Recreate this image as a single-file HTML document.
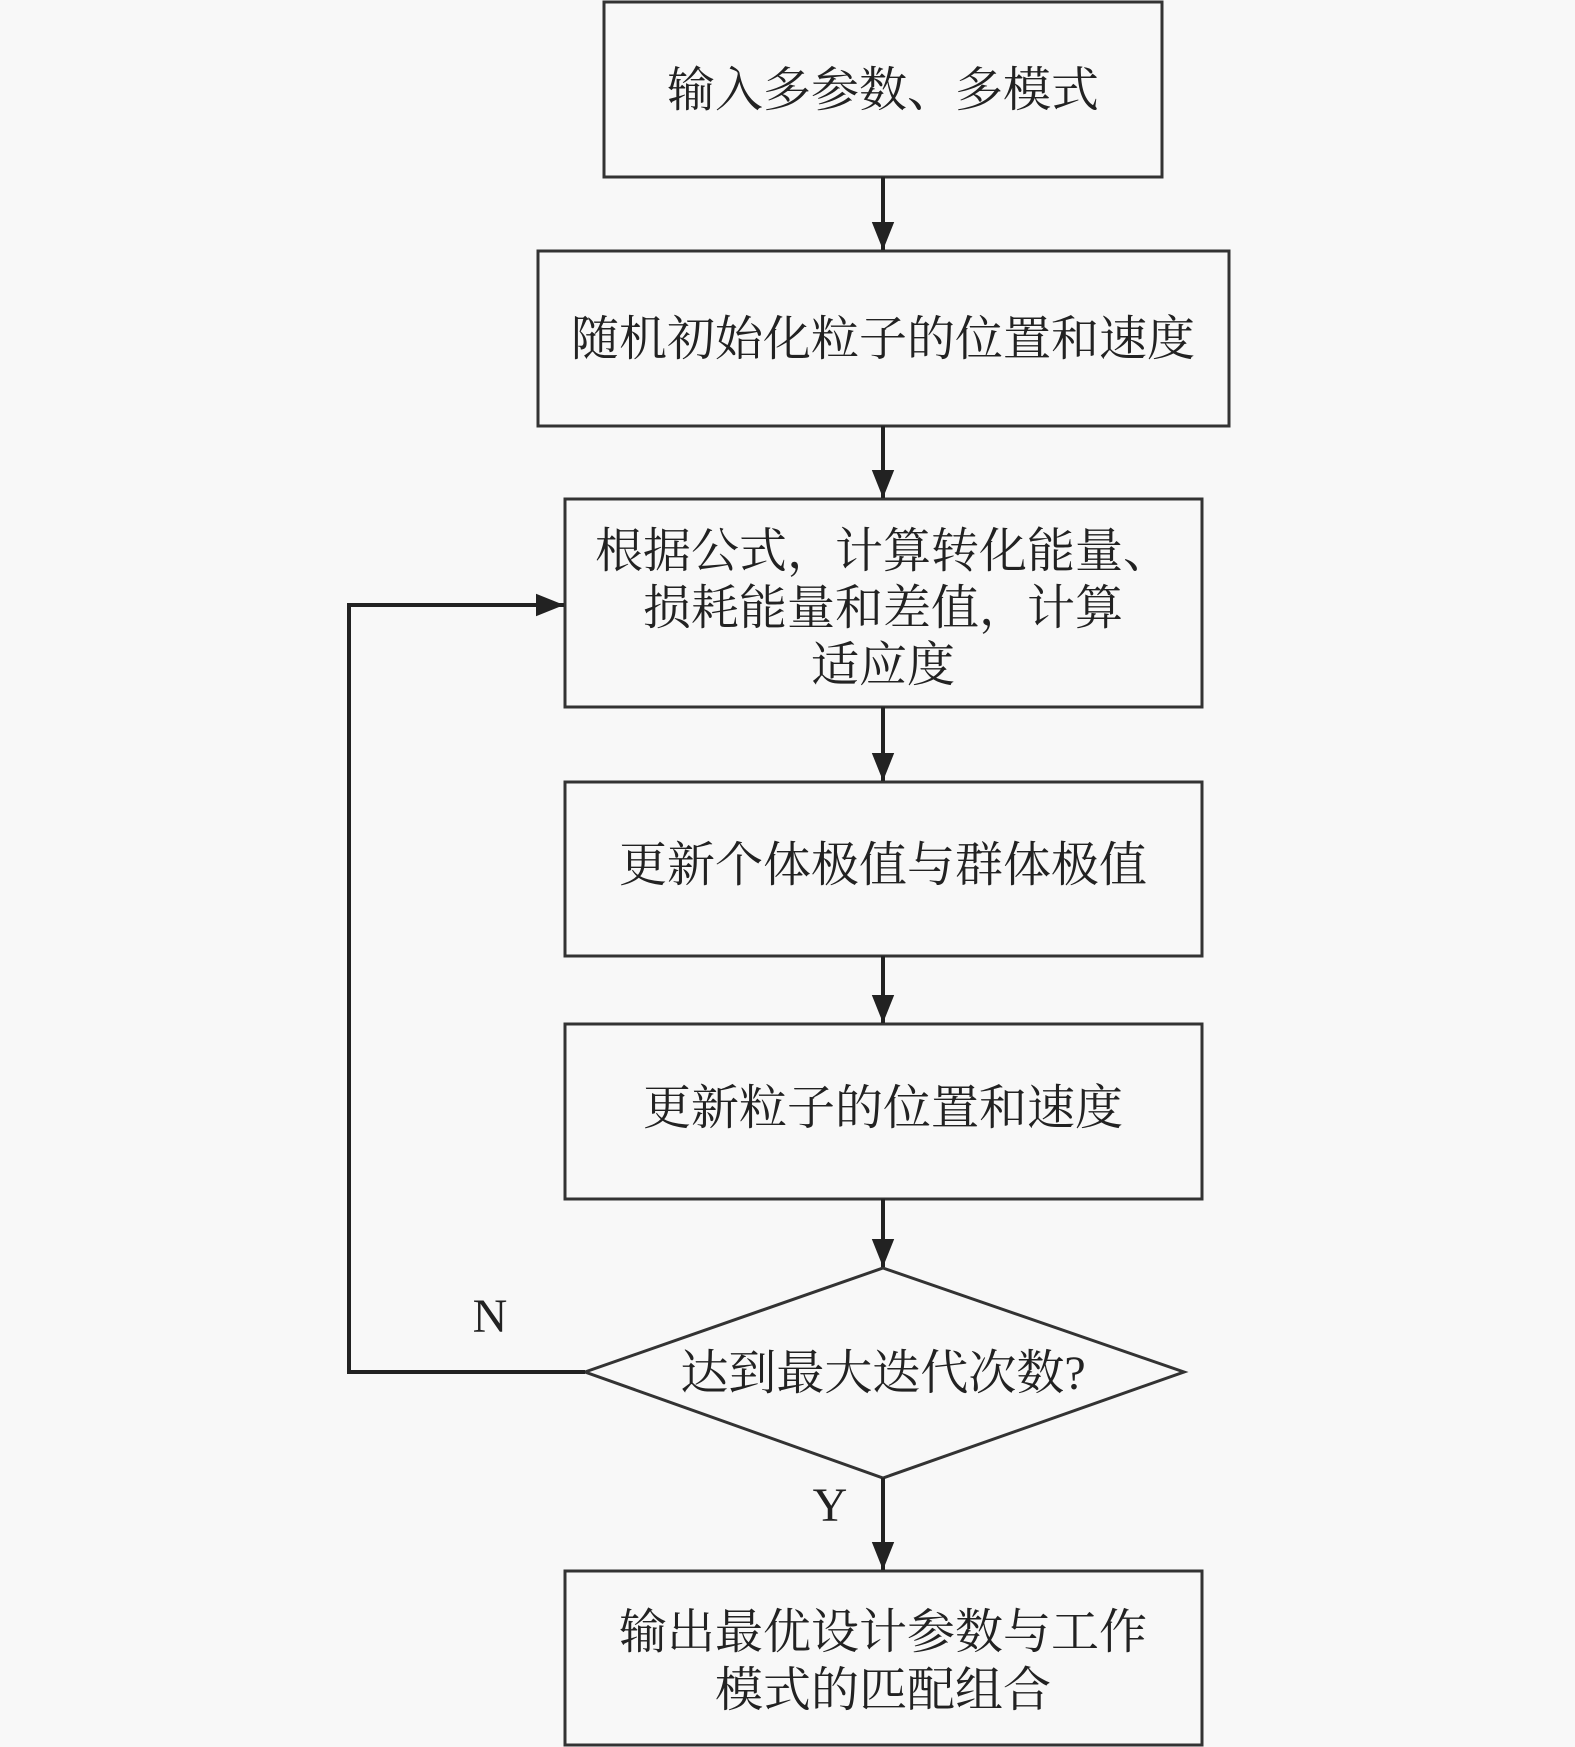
<!DOCTYPE html>
<html><head><meta charset="utf-8"><style>
html,body{margin:0;padding:0;background:#f8f8f8;}
svg{display:block}
text{font-family:"Liberation Serif","Noto Serif CJK SC",serif;font-size:48px;fill:#222;text-anchor:middle;}
</style></head><body>
<svg width="1575" height="1747" viewBox="0 0 1575 1747" xmlns="http://www.w3.org/2000/svg">
<defs>
<marker id="b" viewBox="0 0 10 10" refX="10" refY="5" markerWidth="28" markerHeight="28" markerUnits="userSpaceOnUse" orient="auto"><path d="M0,1 L10,5 L0,9 z" fill="#222"/></marker></defs>
<g fill="none" stroke="#333" stroke-width="3">
<rect x="604" y="2" width="558" height="175"/>
<rect x="538" y="251" width="691" height="175"/>
<rect x="565" y="499" width="637" height="208"/>
<rect x="565" y="782" width="637" height="174"/>
<rect x="565" y="1024" width="637" height="175"/>
<polygon points="883,1268 1184,1372 883,1478 585,1372"/>
<rect x="565" y="1571" width="637" height="174"/>
</g>
<g stroke="#222" stroke-width="4" fill="none">
<line x1="883" y1="177" x2="883" y2="250" marker-end="url(#b)"/>
<line x1="883" y1="426" x2="883" y2="498" marker-end="url(#b)"/>
<line x1="883" y1="707" x2="883" y2="781" marker-end="url(#b)"/>
<line x1="883" y1="956" x2="883" y2="1023" marker-end="url(#b)"/>
<line x1="883" y1="1199" x2="883" y2="1267" marker-end="url(#b)"/>
<line x1="883" y1="1478" x2="883" y2="1570" marker-end="url(#b)"/>
<polyline points="585,1372 349,1372 349,605 564,605" marker-end="url(#b)"/>
</g>
<text x="883" y="106">输入多参数、多模式</text>
<text x="883" y="355">随机初始化粒子的位置和速度</text>
<text x="883" y="567">根据公式，计算转化能量、</text>
<text x="883" y="624">损耗能量和差值，计算</text>
<text x="883" y="681">适应度</text>
<text x="883" y="881">更新个体极值与群体极值</text>
<text x="883" y="1124">更新粒子的位置和速度</text>
<text x="883" y="1389">达到最大迭代次数?</text>
<text x="883" y="1648">输出最优设计参数与工作</text>
<text x="883" y="1706">模式的匹配组合</text>
<text x="490" y="1332">N</text>
<text x="830" y="1521">Y</text>
</svg>
</body></html>
